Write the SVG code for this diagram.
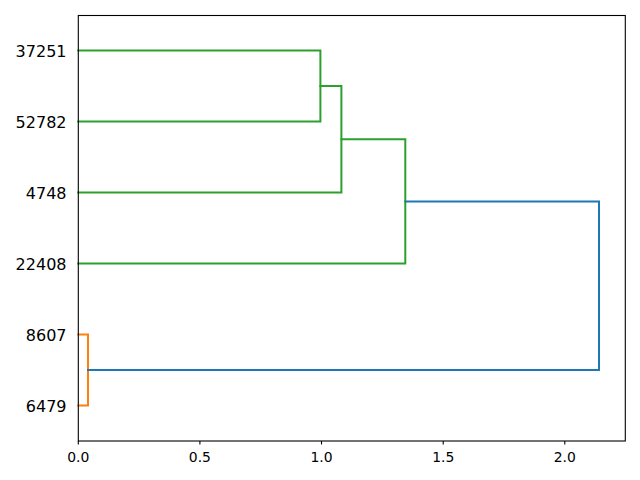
<svg xmlns="http://www.w3.org/2000/svg" width="640" height="480" viewBox="0 0 640 480">
<style>
.l{fill:none;stroke-width:2;stroke-linejoin:miter;stroke-linecap:square}
.g{stroke:#2ca02c}.o{stroke:#ff7f0e}.b{stroke:#1f77b4}
.yl{font-family:"DejaVu Sans",sans-serif;font-size:16px;fill:#000;text-anchor:end;dominant-baseline:central}
.xl{font-family:"DejaVu Sans",sans-serif;font-size:13.9px;fill:#000;text-anchor:middle}
.tk{stroke:#000;stroke-width:1.1}
</style>
<rect width="640" height="480" fill="#fff"/>
<g id="connectors">
<path class="l g" d="M78.3,50.5H320.4V121.5H78.3"/>
<path class="l g" d="M320.4,86H341.4V192.5H78.3"/>
<path class="l g" d="M341.4,139.2H405.3V263.5H78.3"/>
<path class="l o" d="M78.3,334.5H88V405.5H78.3"/>
<path class="l b" d="M405.3,201.4H599V370H88"/>
</g>
<g id="axes">
<rect x="78.3" y="15.5" width="547" height="425.5" fill="none" stroke="#000" stroke-width="1.1"/>
<g class="tk">
<line x1="78.3" y1="441" x2="78.3" y2="444.5"/>
<line x1="199.9" y1="441" x2="199.9" y2="444.5"/>
<line x1="321.5" y1="441" x2="321.5" y2="444.5"/>
<line x1="443.2" y1="441" x2="443.2" y2="444.5"/>
<line x1="564.8" y1="441" x2="564.8" y2="444.5"/>
</g>
</g>
<g id="xlabels">
<text class="xl" x="78.3" y="462">0.0</text>
<text class="xl" x="199.9" y="462">0.5</text>
<text class="xl" x="321.5" y="462">1.0</text>
<text class="xl" x="443.2" y="462">1.5</text>
<text class="xl" x="564.8" y="462">2.0</text>
</g>
<g id="leaf-37251"><text class="yl" x="66.5" y="51">37251</text></g>
<g id="leaf-52782"><text class="yl" x="66.5" y="122">52782</text></g>
<g id="leaf-4748"><text class="yl" x="66.5" y="193">4748</text></g>
<g id="leaf-22408"><text class="yl" x="66.5" y="264">22408</text></g>
<g id="leaf-8607"><text class="yl" x="66.5" y="335">8607</text></g>
<g id="leaf-6479"><text class="yl" x="66.5" y="406">6479</text></g>
</svg>
